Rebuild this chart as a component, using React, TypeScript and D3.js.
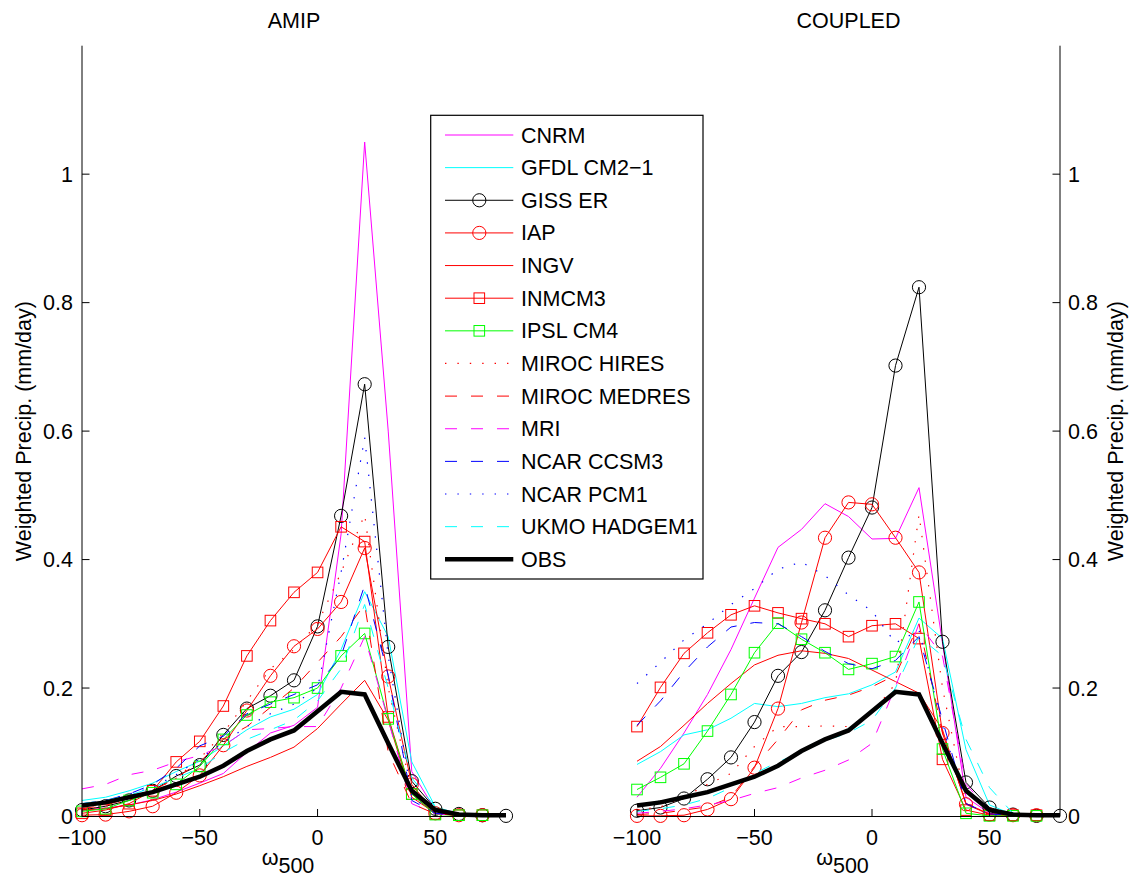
import React from "react";
import * as d3 from "d3";

// ---------- data ----------
const OMEGA = [-100, -90, -80, -70, -60, -50, -40, -30, -20, -10, 0, 10, 20, 30, 40, 50, 60, 70, 80];
const X_TICKS = [-100, -50, 0, 50];
const Y_TICKS = [0, 0.2, 0.4, 0.6, 0.8, 1];
const PANEL_TITLES = ["AMIP", "COUPLED"];
const MODEL_NAMES = [
  "CNRM", "GFDL CM2\u22121", "GISS ER", "IAP", "INGV", "INMCM3", "IPSL CM4",
  "MIROC HIRES", "MIROC MEDRES", "MRI", "NCAR CCSM3", "NCAR PCM1", "UKMO HADGEM1", "OBS",
];

// AMIP
const CNRM_A = [0.010, 0.013, 0.018, 0.026, 0.038, 0.052, 0.067, 0.100, 0.130, 0.142, 0.170, 0.440, 1.050, 0.600, 0.070, 0.010, 0.003, 0.002];
const GFDL_A = [0.025, 0.030, 0.040, 0.052, 0.070, 0.086, 0.110, 0.135, 0.155, 0.167, 0.190, 0.260, 0.350, 0.280, 0.085, 0.015, 0.004, 0.002];
const GISS_A = [0.010, 0.016, 0.025, 0.040, 0.063, 0.080, 0.127, 0.168, 0.188, 0.212, 0.296, 0.468, 0.673, 0.264, 0.055, 0.012, 0.004, 0.002, 0.001];
const IAP_A = [0.002, 0.003, 0.008, 0.016, 0.037, 0.064, 0.111, 0.165, 0.219, 0.265, 0.292, 0.334, 0.418, 0.218, 0.050, 0.005, 0.002, 0.002];
const INGV_A = [0.010, 0.012, 0.018, 0.025, 0.035, 0.048, 0.062, 0.078, 0.092, 0.108, 0.137, 0.175, 0.212, 0.150, 0.030, 0.005, 0.002, 0.001];
const INMCM3_A = [0.005, 0.010, 0.020, 0.040, 0.085, 0.117, 0.172, 0.250, 0.305, 0.349, 0.380, 0.451, 0.428, 0.155, 0.035, 0.004, 0.002, 0.002];
const IPSL_A = [0.008, 0.012, 0.025, 0.037, 0.050, 0.078, 0.120, 0.158, 0.178, 0.185, 0.200, 0.250, 0.285, 0.152, 0.035, 0.003, 0.002, 0.002];
const MIROCH_A = [0.012, 0.016, 0.025, 0.040, 0.060, 0.090, 0.130, 0.180, 0.230, 0.260, 0.300, 0.380, 0.470, 0.200, 0.040, 0.005, 0.002, 0.002];
const MIROCM_A = [0.012, 0.018, 0.028, 0.040, 0.060, 0.085, 0.120, 0.140, 0.170, 0.200, 0.240, 0.280, 0.330, 0.100, 0.020, 0.004, 0.002, 0.002];
const MRI_A = [0.043, 0.050, 0.065, 0.072, 0.085, 0.095, 0.110, 0.135, 0.137, 0.140, 0.140, 0.200, 0.280, 0.150, 0.020, 0.004, 0.002, 0.002];
const CCSM3_A = [0.020, 0.025, 0.035, 0.050, 0.075, 0.110, 0.125, 0.160, 0.175, 0.190, 0.205, 0.250, 0.360, 0.220, 0.025, 0.005, 0.002, 0.002];
const PCM1_A = [0.020, 0.025, 0.035, 0.045, 0.065, 0.090, 0.115, 0.140, 0.160, 0.175, 0.200, 0.380, 0.590, 0.250, 0.030, 0.005, 0.002, 0.002];
const UKMO_A = [0.020, 0.025, 0.033, 0.045, 0.060, 0.075, 0.100, 0.120, 0.135, 0.150, 0.180, 0.230, 0.330, 0.200, 0.060, 0.015, 0.004, 0.002];
const OBS = [0.017, 0.022, 0.030, 0.038, 0.050, 0.062, 0.079, 0.102, 0.120, 0.134, 0.164, 0.194, 0.190, 0.114, 0.040, 0.010, 0.003, 0.002, 0.002];

// COUPLED
const CNRM_C = [0.030, 0.075, 0.130, 0.190, 0.260, 0.340, 0.419, 0.447, 0.487, 0.467, 0.432, 0.433, 0.512, 0.270, 0.030, 0.005, 0.002, 0.001];
const GFDL_C = [0.081, 0.101, 0.127, 0.135, 0.153, 0.176, 0.171, 0.176, 0.185, 0.191, 0.205, 0.225, 0.309, 0.277, 0.104, 0.018, 0.003, 0.001];
const GISS_C = [0.009, 0.014, 0.028, 0.058, 0.092, 0.147, 0.219, 0.256, 0.321, 0.403, 0.481, 0.702, 0.824, 0.272, 0.053, 0.014, 0.003, 0.001, 0.001];
const IAP_C = [0.001, 0.001, 0.002, 0.011, 0.027, 0.076, 0.168, 0.302, 0.434, 0.489, 0.486, 0.434, 0.380, 0.130, 0.019, 0.003, 0.002, 0.002];
const INGV_C = [0.086, 0.109, 0.142, 0.176, 0.207, 0.236, 0.251, 0.258, 0.254, 0.246, 0.228, 0.210, 0.192, 0.135, 0.020, 0.004, 0.002, 0.001];
const INMCM3_C = [0.140, 0.201, 0.254, 0.286, 0.314, 0.328, 0.317, 0.308, 0.300, 0.280, 0.297, 0.300, 0.277, 0.089, 0.010, 0.002, 0.002, 0.002];
const IPSL_C = [0.042, 0.061, 0.082, 0.133, 0.190, 0.255, 0.301, 0.276, 0.255, 0.229, 0.238, 0.249, 0.334, 0.105, 0.005, 0.001, 0.001, 0.001];
const MIROCH_C = [0.010, 0.015, 0.030, 0.050, 0.067, 0.109, 0.140, 0.140, 0.141, 0.140, 0.160, 0.207, 0.470, 0.200, 0.020, 0.004, 0.002, 0.001];
const MIROCM_C = [0.003, 0.005, 0.010, 0.015, 0.030, 0.078, 0.120, 0.166, 0.181, 0.189, 0.202, 0.220, 0.300, 0.130, 0.020, 0.004, 0.002, 0.001];
const MRI_C = [0.005, 0.008, 0.012, 0.018, 0.025, 0.036, 0.045, 0.060, 0.072, 0.088, 0.114, 0.202, 0.300, 0.250, 0.050, 0.010, 0.002, 0.001];
const CCSM3_C = [0.142, 0.180, 0.225, 0.264, 0.295, 0.302, 0.300, 0.280, 0.257, 0.238, 0.230, 0.243, 0.280, 0.150, 0.020, 0.004, 0.002, 0.001];
const PCM1_C = [0.207, 0.240, 0.275, 0.300, 0.330, 0.355, 0.385, 0.396, 0.375, 0.345, 0.320, 0.270, 0.290, 0.140, 0.020, 0.003, 0.001, 0.001];
const UKMO_C = [0.008, 0.012, 0.018, 0.028, 0.045, 0.067, 0.085, 0.100, 0.118, 0.130, 0.150, 0.200, 0.280, 0.250, 0.120, 0.045, 0.005, 0.002];

const AMIP_SERIES = [CNRM_A, GFDL_A, GISS_A, IAP_A, INGV_A, INMCM3_A, IPSL_A, MIROCH_A, MIROCM_A, MRI_A, CCSM3_A, PCM1_A, UKMO_A, OBS];
const COUPLED_SERIES = [CNRM_C, GFDL_C, GISS_C, IAP_C, INGV_C, INMCM3_C, IPSL_C, MIROCH_C, MIROCM_C, MRI_C, CCSM3_C, PCM1_C, UKMO_C, OBS];

// ---------- styles ----------
const DASH = "12,14";
const DOT = "1.4,11";
type Sty = { color: string; dash?: string; width: number; marker?: "o" | "s" };
const STYLES: Sty[] = [
  { color: "#ff00ff", width: 1 },
  { color: "#00ffff", width: 1 },
  { color: "#000000", width: 1, marker: "o" },
  { color: "#ff0000", width: 1, marker: "o" },
  { color: "#ff0000", width: 1 },
  { color: "#ff0000", width: 1, marker: "s" },
  { color: "#00ff00", width: 1, marker: "s" },
  { color: "#ff0000", width: 1.2, dash: DOT },
  { color: "#ff0000", width: 1, dash: DASH },
  { color: "#ff00ff", width: 1, dash: DASH },
  { color: "#0000ff", width: 1, dash: DASH },
  { color: "#0000ff", width: 1.2, dash: DOT },
  { color: "#00ffff", width: 1, dash: DASH },
  { color: "#000000", width: 4.5 },
];

const FONT = "'Liberation Sans', Arial, Helvetica, sans-serif";
const FS = 21.5;
const Y_TOP = 45.7;
const Y_BOT = 816.5;
const PANELS = [
  { x0: 82, x1: 506, side: "left" },
  { x0: 637, x1: 1060, side: "right" },
];

const yScale = d3.scaleLinear().domain([0, 1.2]).range([Y_BOT, Y_TOP]);

function Marker({ kind, x, y, color }: { kind?: string; x: number; y: number; color: string }) {
  if (kind === "o") return <circle cx={x} cy={y} r={6.6} fill="none" stroke={color} strokeWidth={1} />;
  if (kind === "s") return <rect x={x - 5.3} y={y - 5.3} width={10.6} height={10.6} fill="none" stroke={color} strokeWidth={1} />;
  return null;
}

function Panel({ idx }: { idx: number }) {
  const p = PANELS[idx];
  const series = idx === 0 ? AMIP_SERIES : COUPLED_SERIES;
  const x = d3.scaleLinear().domain([-100, 80]).range([p.x0, p.x1]);
  const line = d3
    .line<number>()
    .x((_, i) => x(OMEGA[i]))
    .y((d) => yScale(d));
  const axisX = p.side === "left" ? p.x0 : p.x1;
  const tickDir = p.side === "left" ? 1 : -1;
  const cx = (p.x0 + p.x1) / 2;
  const labelX = p.side === "left" ? 31 : 1123;
  return (
    <g>
      {series.map((vals, si) => {
        const s = STYLES[si];
        return (
          <g key={si}>
            <path d={line(vals) || ""} fill="none" stroke={s.color} strokeWidth={s.width}
              strokeDasharray={s.dash} strokeLinejoin="miter" />
            {s.marker && vals.map((v, i) => (
              <Marker key={i} kind={s.marker} x={x(OMEGA[i])} y={yScale(v)} color={s.color} />
            ))}
          </g>
        );
      })}
      <line x1={p.x0} x2={p.x1} y1={Y_BOT} y2={Y_BOT} stroke="#000" strokeWidth={1} />
      <line x1={axisX} x2={axisX} y1={Y_TOP} y2={Y_BOT} stroke="#000" strokeWidth={1} />
      {X_TICKS.map((t) => (
        <g key={t}>
          <line x1={x(t)} x2={x(t)} y1={Y_BOT} y2={Y_BOT - 7.5} stroke="#000" strokeWidth={1} />
          <text x={x(t)} y={845} textAnchor="middle" fontFamily={FONT} fontSize={FS}>
            {t < 0 ? "\u2212" + Math.abs(t) : String(t)}
          </text>
        </g>
      ))}
      {Y_TICKS.map((t) => (
        <g key={t}>
          <line x1={axisX} x2={axisX + tickDir * 7.5} y1={yScale(t)} y2={yScale(t)} stroke="#000" strokeWidth={1} />
          <text x={p.side === "left" ? axisX - 9 : axisX + 8} y={yScale(t) + 7.5}
            textAnchor={p.side === "left" ? "end" : "start"} fontFamily={FONT} fontSize={FS}>
            {String(t)}
          </text>
        </g>
      ))}
      <text x={cx} y={28} textAnchor="middle" fontFamily={FONT} fontSize={FS}>{PANEL_TITLES[idx]}</text>
      <text x={cx - 6} y={865} textAnchor="middle" fontFamily={FONT} fontSize={FS}>
        {"\u03c9"}
        <tspan fontSize={FS} dy={8}>500</tspan>
      </text>
      <text transform={`translate(${labelX},${(Y_TOP + Y_BOT) / 2}) rotate(-90)`} textAnchor="middle"
        fontFamily={FONT} fontSize={FS}>
        Weighted Precip.  (mm/day)
      </text>
    </g>
  );
}

function Legend() {
  const bx0 = 430.7, bx1 = 703, by0 = 115.3, by1 = 579;
  const rowY = d3.scaleLinear().domain([0, MODEL_NAMES.length - 1]).range([135, 559.3]);
  const lx0 = 445, lx1 = 513.3, mx = 479.3, tx = 521;
  return (
    <g>
      <rect x={bx0} y={by0} width={bx1 - bx0} height={by1 - by0} fill="#fff" stroke="#000" strokeWidth={1.2} />
      {MODEL_NAMES.map((name, i) => {
        const s = STYLES[i];
        const y = rowY(i);
        return (
          <g key={name}>
            <line x1={lx0} x2={lx1} y1={y} y2={y} stroke={s.color} strokeWidth={s.width} strokeDasharray={s.dash} />
            <Marker kind={s.marker} x={mx} y={y} color={s.color} />
            <text x={tx} y={y + 7.5} fontFamily={FONT} fontSize={FS}>{name}</text>
          </g>
        );
      })}
    </g>
  );
}

export default function App() {
  return (
    <svg width={1133} height={880} style={{ position: "absolute", left: 0, top: 0, background: "#fff" }}>
      <rect x={0} y={0} width={1133} height={880} fill="#fff" />
      <Panel idx={0} />
      <Panel idx={1} />
      <Legend />
    </svg>
  );
}
